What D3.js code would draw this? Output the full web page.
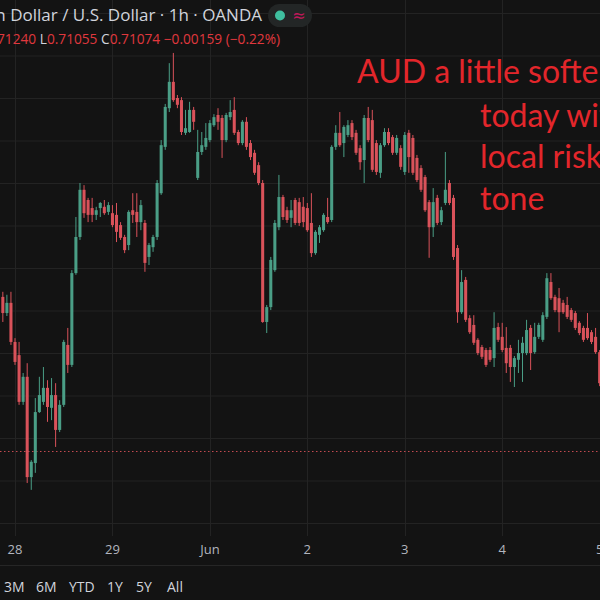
<!DOCTYPE html>
<html>
<head>
<meta charset="utf-8">
<script src="https://cdn.jsdelivr.net/npm/d3@7"></script>
<style>
  html, body { margin: 0; padding: 0; background: #131313; }
  svg { display: block; }
</style>
</head>
<body>
<div id="chart"></div>
<script>
// AUD/USD 1h candles (one value per hour)
var opens = [
  0.71332,0.71294,0.71318,0.71226,0.71195,0.71085,0.71144,0.70908,0.70941,0.71061,
  0.71085,0.71118,0.71071,0.71101,0.71019,0.71078,0.71219,0.71172,0.71388,0.71473,
  0.71584,0.71560,0.71541,0.71525,0.71541,0.71544,0.71532,0.71529,0.71525,0.71501,
  0.71473,0.71454,0.71536,0.71532,0.71508,0.71506,0.71426,0.71449,0.71473,0.71576,
  0.71685,0.71776,0.71838,0.71800,0.71795,0.71718,0.71720,0.71772,0.71612,0.71673,
  0.71685,0.71701,0.71736,0.71760,0.71753,0.71701,0.71755,0.71772,0.71720,0.71694,
  0.71744,0.71694,0.71671,0.71642,0.71600,0.71273,0.71308,0.71395,0.71496,0.71567,
  0.71536,0.71518,0.71560,0.71555,0.71544,0.71541,0.71506,0.71435,0.71478,0.71489,
  0.71520,0.71513,0.71685,0.71718,0.71694,0.71713,0.71741,0.71718,0.71682,0.71654,
  0.71753,0.71748,0.71694,0.71624,0.71689,0.71720,0.71708,0.71671,0.71682,0.71626,
  0.71718,0.71706,0.71659,0.71635,0.71614,0.71555,0.71496,0.71565,0.71508,0.71553,
  0.71600,0.71565,0.71447,0.71296,0.71372,0.71282,0.71266,0.71231,0.71214,0.71207,
  0.71207,0.71188,0.71261,0.71238,0.71212,0.71212,0.71167,0.71184,0.71200,0.71200,
  0.71259,0.71202,0.71238,0.71231,0.71285,0.71367,0.71332,0.71329,0.71318,0.71313,
  0.71301,0.71294,0.71271,0.71259,0.71259,0.71249,0.71238,0.71202
];
var highs = [
  0.71344,0.71337,0.71344,0.71235,0.71226,0.71153,0.71176,0.70948,0.71094,0.71144,
  0.71167,0.71136,0.71141,0.71129,0.71089,0.71231,0.71259,0.71395,0.71520,0.71600,
  0.71595,0.71565,0.71565,0.71544,0.71555,0.71560,0.71555,0.71548,0.71553,0.71508,
  0.71478,0.71536,0.71576,0.71576,0.71560,0.71513,0.71459,0.71478,0.71607,0.71701,
  0.71786,0.71882,0.71906,0.71807,0.71802,0.71772,0.71791,0.71779,0.71725,0.71720,
  0.71741,0.71748,0.71762,0.71776,0.71760,0.71765,0.71795,0.71802,0.71725,0.71748,
  0.71755,0.71701,0.71678,0.71649,0.71607,0.71313,0.71426,0.71513,0.71619,0.71572,
  0.71544,0.71560,0.71565,0.71565,0.71567,0.71553,0.71576,0.71489,0.71501,0.71529,
  0.71565,0.71689,0.71736,0.71767,0.71736,0.71748,0.71748,0.71725,0.71689,0.71760,
  0.71779,0.71772,0.71701,0.71694,0.71729,0.71729,0.71713,0.71713,0.71689,0.71720,
  0.71725,0.71713,0.71666,0.71642,0.71619,0.71560,0.71588,0.71572,0.71544,0.71673,
  0.71607,0.71572,0.71454,0.71395,0.71379,0.71289,0.71289,0.71235,0.71219,0.71212,
  0.71214,0.71296,0.71271,0.71271,0.71261,0.71219,0.71193,0.71231,0.71238,0.71278,
  0.71266,0.71271,0.71271,0.71296,0.71388,0.71388,0.71337,0.71353,0.71325,0.71332,
  0.71306,0.71299,0.71275,0.71264,0.71294,0.71254,0.71259,0.71207
];
var lows = [
  0.71273,0.71287,0.71219,0.71172,0.71078,0.71078,0.70894,0.70878,0.70918,0.71059,
  0.71078,0.71038,0.71042,0.70979,0.71014,0.71073,0.71153,0.71167,0.71384,0.71466,
  0.71518,0.71508,0.71508,0.71513,0.71520,0.71525,0.71525,0.71496,0.71461,0.71466,
  0.71435,0.71442,0.71506,0.71473,0.71489,0.71391,0.71407,0.71438,0.71466,0.71572,
  0.71678,0.71767,0.71791,0.71776,0.71713,0.71713,0.71718,0.71725,0.71607,0.71666,
  0.71678,0.71696,0.71732,0.71725,0.71659,0.71696,0.71748,0.71713,0.71689,0.71689,
  0.71678,0.71654,0.71619,0.71595,0.71271,0.71247,0.71301,0.71391,0.71489,0.71513,
  0.71506,0.71496,0.71501,0.71499,0.71496,0.71485,0.71426,0.71431,0.71459,0.71485,
  0.71504,0.71508,0.71678,0.71685,0.71661,0.71708,0.71701,0.71666,0.71631,0.71600,
  0.71696,0.71626,0.71619,0.71612,0.71685,0.71689,0.71666,0.71666,0.71631,0.71619,
  0.71624,0.71619,0.71602,0.71579,0.71532,0.71424,0.71473,0.71501,0.71501,0.71548,
  0.71548,0.71419,0.71271,0.71292,0.71273,0.71245,0.71219,0.71195,0.71186,0.71167,
  0.71179,0.71167,0.71226,0.71202,0.71153,0.71132,0.71120,0.71153,0.71132,0.71195,
  0.71160,0.71198,0.71233,0.71226,0.71280,0.71325,0.71296,0.71249,0.71292,0.71280,
  0.71273,0.71254,0.71242,0.71226,0.71231,0.71221,0.71198,0.71122
];
var closes = [
  0.71294,0.71318,0.71226,0.71179,0.71085,0.71144,0.70908,0.70944,0.71061,0.71101,
  0.71118,0.71073,0.71101,0.71019,0.71078,0.71226,0.71172,0.71388,0.71473,0.71584,
  0.71529,0.71525,0.71525,0.71536,0.71553,0.71529,0.71548,0.71501,0.71485,0.71471,
  0.71442,0.71532,0.71525,0.71508,0.71548,0.71412,0.71454,0.71473,0.71600,0.71689,
  0.71779,0.71838,0.71795,0.71784,0.71720,0.71729,0.71772,0.71744,0.71673,0.71689,
  0.71706,0.71741,0.71755,0.71744,0.71701,0.71760,0.71767,0.71718,0.71694,0.71744,
  0.71685,0.71661,0.71624,0.71600,0.71273,0.71308,0.71419,0.71506,0.71567,0.71520,
  0.71513,0.71536,0.71506,0.71506,0.71508,0.71489,0.71435,0.71485,0.71496,0.71525,
  0.71508,0.71685,0.71718,0.71689,0.71732,0.71736,0.71708,0.71671,0.71649,0.71753,
  0.71701,0.71631,0.71626,0.71689,0.71720,0.71694,0.71671,0.71706,0.71638,0.71713,
  0.71661,0.71624,0.71607,0.71584,0.71536,0.71496,0.71555,0.71506,0.71536,0.71584,
  0.71553,0.71426,0.71296,0.71367,0.71278,0.71249,0.71224,0.71200,0.71191,0.71172,
  0.71184,0.71259,0.71231,0.71207,0.71176,0.71167,0.71188,0.71200,0.71224,0.71254,
  0.71200,0.71238,0.71266,0.71289,0.71376,0.71329,0.71301,0.71296,0.71296,0.71285,
  0.71278,0.71259,0.71247,0.71231,0.71235,0.71226,0.71202,0.71129
];

// first bar of each day on the time axis
var dayLabels = ["28", "29", "Jun", "2", "3", "4", "5"];
var dayStartBar = [3, 27, 51, 75, 99, 123, 147];

var prevClose = 0.70969;
var priceMin = 0.7080, priceMax = 0.7200;

var headerTitle = "Australian Dollar / U.S. Dollar \u00b7 1h \u00b7 OANDA";
var ohlcParts = [
  ["H", "0.71240"], ["L", "0.71055"], ["C", "0.71074"], ["", "\u22120.00159 (\u22120.22%)"]
];
var noteLines = ["AUD a little softer", "today with", "local risk", "tone"];
var rangeButtons = ["3M", "6M", "YTD", "1Y", "5Y", "All"];

(function() {
  var W = 600, H = 600;
  var paneBottom = 536;
  var upColor = "#4a9e86", downColor = "#d9525a";

  var bars = opens.map(function(o, i) {
    return {i: i, o: o, h: highs[i], l: lows[i], c: closes[i]};
  });

  var svg = d3.select("#chart").append("svg").attr("width", W).attr("height", H);
  svg.append("rect").attr("width", W).attr("height", H).attr("fill", "#131313");

  var x = d3.scaleBand().domain(d3.range(bars.length)).range([0.8, 0.8 + bars.length * 4.06]).paddingInner(0.25).paddingOuter(0.125);
  var y = d3.scaleLinear().domain([priceMin, priceMax]).range([523, 13]);
  var cx = function(i) { return x(i) + x.bandwidth() / 2; };

  // grid
  var yGrid = d3.axisLeft(y).tickValues(d3.range(0, 13).map(function(k) { return priceMin + k * 0.001; }))
    .tickSize(-W).tickFormat("");
  svg.append("g").attr("class", "ygrid").call(yGrid)
    .call(function(g) { g.select(".domain").remove(); })
    .selectAll("line").attr("stroke", "#232323");

  svg.append("g").selectAll("line").data(dayStartBar).enter().append("line")
    .attr("x1", function(d) { return Math.round(cx(d)) + 0.5; })
    .attr("x2", function(d) { return Math.round(cx(d)) + 0.5; })
    .attr("y1", 0).attr("y2", paneBottom)
    .attr("stroke", "#232323");

  // previous close dotted line
  svg.append("line").attr("x1", 0).attr("x2", W)
    .attr("y1", Math.round(y(prevClose)) + 0.5).attr("y2", Math.round(y(prevClose)) + 0.5)
    .attr("stroke", "#c24a50").attr("stroke-width", 1).attr("stroke-dasharray", "1.5,2.5");

  // candles
  var g = svg.append("g");
  g.selectAll("line.wick").data(bars).enter().append("line").attr("class", "wick")
    .attr("x1", function(d) { return cx(d.i); })
    .attr("x2", function(d) { return cx(d.i); })
    .attr("y1", function(d) { return y(d.h); })
    .attr("y2", function(d) { return y(d.l); })
    .attr("stroke", function(d) { return d.c >= d.o ? upColor : downColor; })
    .attr("stroke-width", 1);
  g.selectAll("rect.body").data(bars).enter().append("rect").attr("class", "body")
    .attr("x", function(d) { return x(d.i); })
    .attr("width", x.bandwidth())
    .attr("y", function(d) { return y(Math.max(d.o, d.c)); })
    .attr("height", function(d) { return Math.max(1, Math.abs(y(d.o) - y(d.c))); })
    .attr("fill", function(d) { return d.c >= d.o ? upColor : downColor; });

  // time axis
  var xAxis = d3.axisBottom(x).tickValues(dayStartBar).tickSize(0).tickPadding(0)
    .tickFormat(function(d) { return dayLabels[dayStartBar.indexOf(d)]; });
  var ax = svg.append("g").attr("transform", "translate(0," + 545 + ")").call(xAxis);
  ax.select(".domain").remove();
  ax.selectAll("text").attr("fill", "#b2b5be").attr("font-size", 13)
    .attr("font-family", "'Open Sans', sans-serif").attr("dy", "0.71em");

  svg.append("line").attr("x1", 0).attr("x2", W).attr("y1", 565.5).attr("y2", 565.5).attr("stroke", "#262626");

  // range buttons
  var bx = [4, 36, 69, 107, 136, 167];
  svg.append("g").selectAll("text").data(rangeButtons).enter().append("text")
    .attr("x", function(d, i) { return bx[i]; }).attr("y", 592)
    .attr("fill", "#d1d4dc").attr("font-size", 14).attr("font-family", "'Open Sans', sans-serif")
    .text(function(d) { return d; });

  // header
  svg.append("text").attr("x", 262).attr("y", 21).attr("text-anchor", "end")
    .attr("fill", "#d1d4dc").attr("font-size", 17).attr("font-family", "'Open Sans', sans-serif")
    .text(headerTitle);
  svg.append("rect").attr("x", 268).attr("y", 4).attr("width", 44).attr("height", 23).attr("rx", 11.5).attr("fill", "#232626");
  svg.append("circle").attr("cx", 280).attr("cy", 15.5).attr("r", 5).attr("fill", "#3fbf9f");
  svg.append("text").attr("x", 299).attr("y", 21).attr("text-anchor", "middle")
    .attr("fill", "#c2185b").attr("font-size", 16).attr("font-family", "'DejaVu Sans', sans-serif").text("\u2248");

  var ohlc = svg.append("text").attr("x", 280).attr("y", 44).attr("text-anchor", "end")
    .attr("font-size", 13.7).attr("font-family", "'Open Sans', sans-serif");
  ohlcParts.forEach(function(p, i) {
    if (p[0]) ohlc.append("tspan").attr("fill", "#d1d4dc").text((i ? " " : "") + p[0]);
    else ohlc.append("tspan").attr("fill", "#e0383e").text(" ");
    ohlc.append("tspan").attr("fill", "#e0383e").text(p[1]);
  });

  // annotation
  var nx = [357, 480, 480, 480], ny = [83, 127, 168, 210];
  svg.append("g").selectAll("text").data(noteLines).enter().append("text")
    .attr("x", function(d, i) { return nx[i]; }).attr("y", function(d, i) { return ny[i]; })
    .attr("fill", "#e3262b").attr("font-size", 32).attr("font-family", "Lato, sans-serif")
    .text(function(d) { return d; });
})();
</script>
</body>
</html>
